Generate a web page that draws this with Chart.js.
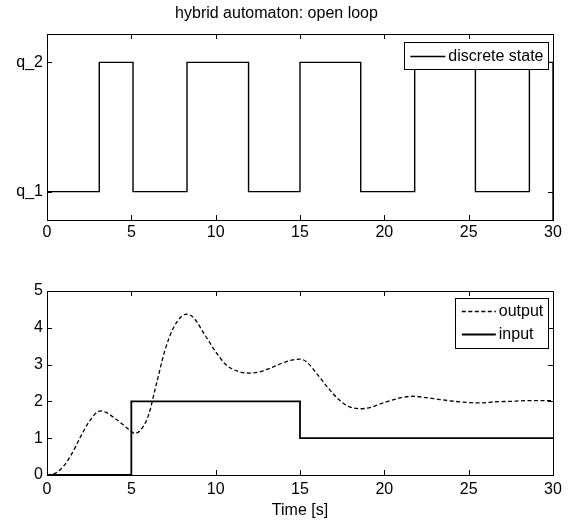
<!DOCTYPE html>
<html><head><meta charset="utf-8">
<script src="https://cdn.jsdelivr.net/npm/chart.js@4.4.1/dist/chart.umd.min.js"></script>
<style>
html,body{margin:0;padding:0;background:#fff;}
#c1{position:absolute;left:0;top:0;}
#c2{position:absolute;left:0;top:250px;}
</style></head><body>
<canvas id="c1" width="571" height="250"></canvas>
<canvas id="c2" width="571" height="272"></canvas>
<script>
// ---- data ----
const chartTitle = 'hybrid automaton: open loop';
const xTicks = [0, 5, 10, 15, 20, 25, 30];
const stateLevels = [1, 2];
const stateNames = ['q_1', 'q_2'];
const stateTimes  = [0, 3.1, 5.1, 8.3, 11.95, 15, 18.6, 21.8, 25.4, 28.6, 30];
const stateValues = [1, 2,   1,   2,   1,     2,  1,    2,    1,    2,    0];
const stateLabel = 'discrete state';

const outputTimes  = [0, 0.5, 1, 1.5, 2, 2.5, 3, 3.2, 3.5, 4, 4.5, 5, 5.2, 5.5, 6, 6.5, 7, 7.5, 8, 8.3, 8.7, 9.3, 10, 10.6, 11.3, 12, 12.6, 13.2, 13.9, 14.5, 15, 15.4, 16, 16.7, 17.3, 17.9, 18.6, 19.2, 20, 21, 21.7, 22.5, 23.3, 24.2, 25, 25.7, 26.6, 27.4, 28.5, 30];
const outputValues = [0, 0.05, 0.25, 0.6, 1.05, 1.45, 1.72, 1.74, 1.7, 1.55, 1.37, 1.18, 1.13, 1.2, 1.6, 2.5, 3.4, 4.0, 4.32, 4.37, 4.27, 3.85, 3.35, 3.0, 2.82, 2.77, 2.8, 2.9, 3.03, 3.12, 3.15, 3.07, 2.75, 2.35, 2.05, 1.86, 1.8, 1.84, 1.97, 2.1, 2.14, 2.1, 2.05, 2.0, 1.97, 1.96, 1.99, 2.0, 2.02, 2.02];
const inputTimes  = [0, 5, 15, 30];
const inputValues = [0, 2, 1, 1];
const bottomYTicks = [0, 1, 2, 3, 4, 5];
const xAxisLabel = 'Time [s]';

// ---- helpers ----
const FONT = {family: '"Liberation Sans", Arial, sans-serif', size: 16};
const pts = (xs, ys) => xs.map((x, i) => ({x: x, y: ys[i]}));

const matlabAxes = {
  id: 'matlabAxes',
  afterDraw(chart, args, opts) {
    const {ctx, chartArea: a, scales} = chart;
    ctx.save();
    ctx.strokeStyle = '#000';
    ctx.lineWidth = 1;
    const L = 5;
    ctx.beginPath();
    scales.x.ticks.forEach(t => {
      const px = Math.round(scales.x.getPixelForValue(t.value)) + 0.5;
      ctx.moveTo(px, a.bottom); ctx.lineTo(px, a.bottom - L);
      ctx.moveTo(px, a.top); ctx.lineTo(px, a.top + L);
    });
    scales.y.ticks.forEach(t => {
      const py = Math.round(scales.y.getPixelForValue(t.value)) + 0.5;
      ctx.moveTo(a.left, py); ctx.lineTo(a.left + L, py);
      ctx.moveTo(a.right, py); ctx.lineTo(a.right - L, py);
    });
    ctx.stroke();
    ctx.strokeRect(Math.round(a.left) + 0.5, Math.round(a.top) + 0.5, Math.round(a.right - a.left), Math.round(a.bottom - a.top));

    // legend box
    ctx.font = FONT.size + 'px ' + FONT.family;
    const ds = chart.data.datasets;
    let tw = 0;
    ds.forEach(d => { tw = Math.max(tw, ctx.measureText(d.label).width); });
    const padL = opts.padL, lineLen = opts.lineLen, gap = 3, padR = opts.padR, rowH = 23, padV = 2;
    const w = padL + lineLen + gap + tw + padR;
    const h = padV * 2 + rowH * ds.length;
    const right = a.right - opts.rightInset, top = a.top + opts.topInset;
    const left = right - w;
    ctx.fillStyle = '#fff';
    ctx.fillRect(left, top, w, h);
    ctx.strokeRect(Math.round(left) + 0.5, Math.round(top) + 0.5, Math.round(w), Math.round(h));
    ds.forEach((d, i) => {
      const cy = Math.round(top + padV + rowH * i + rowH / 2) + 0.5;
      ctx.beginPath();
      ctx.setLineDash(d.borderDash || []);
      ctx.lineWidth = d.borderWidth;
      ctx.moveTo(left + padL, cy); ctx.lineTo(left + padL + lineLen, cy);
      ctx.stroke();
      ctx.setLineDash([]);
      ctx.fillStyle = '#000';
      ctx.textBaseline = 'middle';
      ctx.textAlign = 'left';
      ctx.fillText(d.label, left + padL + lineLen + gap, cy);
    });
    ctx.restore();
  }
};

function xScale(height, pad, title) {
  return {
    type: 'linear', min: 0, max: 30,
    afterBuildTicks: s => { s.ticks = xTicks.map(v => ({value: v})); },
    afterFit: s => { s.height = height; },
    grid: {display: false, drawTicks: false},
    border: {display: false},
    ticks: {color: '#000', font: FONT, padding: pad, maxRotation: 0, autoSkip: false},
    title: title ? {display: true, text: title, color: '#000', font: FONT, padding: {top: 0, bottom: 2}} : {display: false}
  };
}

new Chart(document.getElementById('c1'), {
  type: 'line',
  data: {datasets: [{
    label: stateLabel,
    data: pts(stateTimes, stateValues),
    stepped: 'before',
    borderColor: '#000', borderWidth: 1.4,
    pointRadius: 0, fill: false
  }]},
  options: {
    responsive: false, animation: false, devicePixelRatio: 1,
    layout: {padding: {left: 0, right: 18, top: 0, bottom: 0}},
    plugins: {
      legend: {display: false}, tooltip: {enabled: false},
      title: {display: true, text: chartTitle, color: '#000', font: {family: FONT.family, size: 16, weight: 'normal'}, padding: {top: 4, bottom: 10.8}},
      matlabAxes: {rightInset: 4.5, topInset: 8, padL: 6, lineLen: 35, padR: 5}
    },
    scales: {
      x: xScale(30, 3, null),
      y: {
        type: 'linear', min: 0.78, max: 2.22,
        afterBuildTicks: s => { s.ticks = stateLevels.map(v => ({value: v})); },
        afterFit: s => { s.width = 47; },
        grid: {display: false, drawTicks: false},
        border: {display: false},
        ticks: {color: '#000', font: FONT, padding: 4,
          callback: v => stateNames[stateLevels.indexOf(v)]}
      }
    }
  },
  plugins: [matlabAxes]
});

new Chart(document.getElementById('c2'), {
  type: 'line',
  data: {datasets: [{
    label: 'output',
    data: pts(outputTimes, outputValues),
    cubicInterpolationMode: 'monotone',
    borderColor: '#000', borderWidth: 1.3, borderDash: [4, 2.5],
    pointRadius: 0, fill: false
  }, {
    label: 'input',
    data: pts(inputTimes, inputValues),
    stepped: 'before',
    borderColor: '#000', borderWidth: 1.8,
    pointRadius: 0, fill: false
  }]},
  options: {
    responsive: false, animation: false, devicePixelRatio: 1,
    layout: {padding: {left: 0, right: 18, top: 41, bottom: 0}},
    plugins: {
      legend: {display: false}, tooltip: {enabled: false},
      matlabAxes: {rightInset: 5.2, topInset: 6.5, padL: 7, lineLen: 34, padR: 4.5}
    },
    scales: {
      x: xScale(47, 5, xAxisLabel),
      y: {
        type: 'linear', min: 0, max: 5,
        afterBuildTicks: s => { s.ticks = bottomYTicks.map(v => ({value: v})); },
        afterFit: s => { s.width = 47; },
        grid: {display: false, drawTicks: false},
        border: {display: false},
        ticks: {color: '#000', font: FONT, padding: 4}
      }
    }
  },
  plugins: [matlabAxes]
});
</script>
</body></html>
